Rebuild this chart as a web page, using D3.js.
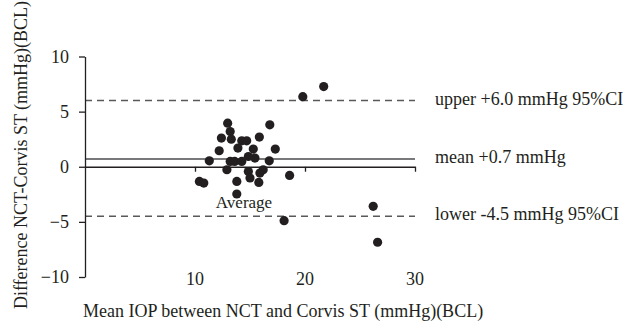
<!DOCTYPE html>
<html>
<head>
<meta charset="utf-8">
<script src="https://cdn.jsdelivr.net/npm/d3@7"></script>
<style>
  html, body { margin: 0; padding: 0; background: #fff; }
  svg text { font-family: "Liberation Serif", "DejaVu Serif", serif; fill: #231f20; }
</style>
</head>
<body>
<svg id="chart" width="643" height="324"></svg>
<script>
// Bland-Altman data
const meanIOP = [19.8, 21.7, 12.97, 13.2, 12.4, 13.3, 12.2, 11.3, 16.8, 15.85, 14.25, 14.7, 13.9, 15.3, 15.45, 17.3, 16.75, 13.2, 13.6, 14.25, 14.85, 12.9, 14.85, 15.0, 15.9, 16.2, 15.8, 18.6, 10.4, 10.8, 13.8, 13.8, 18.1, 26.2, 26.6];
const diffIOP = [6.36, 7.27, 3.95, 3.19, 2.6, 2.5, 1.45, 0.54, 3.8, 2.69, 2.35, 2.35, 1.69, 1.6, 0.79, 1.6, 0.54, 0.48, 0.48, 0.48, 0.93, -0.27, -0.43, -1.02, -0.57, -0.27, -1.42, -0.79, -1.33, -1.48, -1.33, -2.47, -4.89, -3.59, -6.85];
const xTicks = [10, 20, 30];
const yTicks = [-10, -5, 0, 5, 10];
const meanDiff = 0.7;
const upperLoA = 6.0;
const lowerLoA = -4.5;
const labelUpper = "upper +6.0 mmHg 95%CI";
const labelMean = "mean +0.7 mmHg";
const labelLower = "lower -4.5 mmHg 95%CI";
const labelAvg = "Average";
const xTitle = "Mean IOP between NCT and Corvis ST (mmHg)(BCL)";
const yTitle = "Difference NCT-Corvis ST (mmHg)(BCL)";

const svg = d3.select("#chart");
const x = d3.scaleLinear().domain([0, 30]).range([85, 415]);
const y = d3.scaleLinear().domain([-10, 10]).range([277, 56.5]);
const FS = 18;

// limit lines
svg.append("line")
  .attr("x1", x(0)).attr("x2", x(30)).attr("y1", y(upperLoA)).attr("y2", y(upperLoA))
  .attr("stroke", "#58595b").attr("stroke-width", 1.5).attr("stroke-dasharray", "7,5");
svg.append("line")
  .attr("x1", x(0)).attr("x2", x(30)).attr("y1", y(lowerLoA)).attr("y2", y(lowerLoA))
  .attr("stroke", "#58595b").attr("stroke-width", 1.5).attr("stroke-dasharray", "7,5");
svg.append("line")
  .attr("x1", x(0)).attr("x2", x(30)).attr("y1", y(meanDiff)).attr("y2", y(meanDiff))
  .attr("stroke", "#4d4d4f").attr("stroke-width", 1.4);

// x axis at zero
const gx = svg.append("g").attr("transform", `translate(0,${y(0)})`)
  .call(d3.axisBottom(x).tickValues(xTicks).tickSize(5).tickSizeOuter(0).tickFormat(""));
gx.selectAll("path, line").attr("stroke", "#231f20").attr("stroke-width", 1.3);

// y axis
const gy = svg.append("g").attr("transform", `translate(${x(0)},0)`)
  .call(d3.axisLeft(y).tickValues(yTicks).tickSize(6).tickSizeOuter(0).tickPadding(10));
gy.selectAll("path, line").attr("stroke", "#231f20").attr("stroke-width", 1.3);
gy.selectAll("text").attr("font-size", FS).attr("font-family", "Liberation Serif").attr("fill", "#231f20");

// x tick labels at bottom
svg.append("g").selectAll("text").data(xTicks).join("text")
  .attr("x", d => x(d)).attr("y", 285).attr("text-anchor", "middle")
  .attr("font-size", FS).text(d => d);

// points
svg.append("g").selectAll("circle").data(meanIOP.map((m, i) => [m, diffIOP[i]])).join("circle")
  .attr("cx", d => x(d[0])).attr("cy", d => y(d[1])).attr("r", 4.6).attr("fill", "#231f20");

// labels
svg.append("text").attr("x", 435).attr("y", y(upperLoA) + 4.5).attr("font-size", FS).text(labelUpper);
svg.append("text").attr("x", 435).attr("y", y(meanDiff) + 4).attr("font-size", FS).text(labelMean);
svg.append("text").attr("x", 435).attr("y", y(lowerLoA) + 3.8).attr("font-size", FS).text(labelLower);
svg.append("text").attr("x", 244).attr("y", 208).attr("text-anchor", "middle").attr("font-size", 17).text(labelAvg);

// axis titles
svg.append("text").attr("x", 83).attr("y", 317).attr("font-size", FS).text(xTitle);
svg.append("text").attr("transform", "translate(27,155) rotate(-90)").attr("text-anchor", "middle")
  .attr("font-size", FS).text(yTitle);
</script>
</body>
</html>
